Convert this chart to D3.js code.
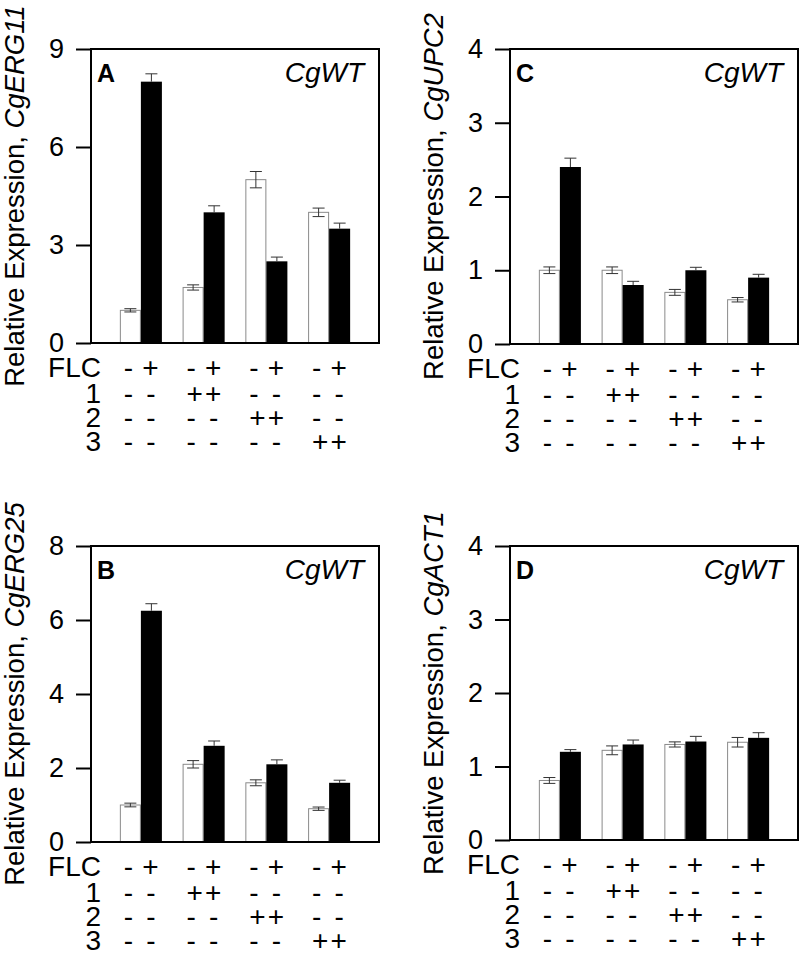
<!DOCTYPE html>
<html><head><meta charset="utf-8">
<script src="https://cdn.jsdelivr.net/npm/d3@7"></script>
<style>
html,body{margin:0;padding:0;background:#fff;}
svg text{font-family:"Liberation Sans",Arial,Helvetica,sans-serif;}
</style></head>
<body>
<svg id="chart" width="800" height="955"></svg>
<script>
// ---- data ----
const groups = ["G1","G2","G3","G4"];
const series = ["noFLC","FLC"];
const rowLabels = ["FLC","1","2","3"];
const rowSigns = [
  [["-","+"],["-","+"],["-","+"],["-","+"]],
  [["-","-"],["+","+"],["-","-"],["-","-"]],
  [["-","-"],["-","-"],["+","+"],["-","-"]],
  [["-","-"],["-","-"],["-","-"],["+","+"]]
];
const panelLetters = ["A","C","B","D"];
const panelGenes = ["CgERG11","CgUPC2","CgERG25","CgACT1"];
const strainLabel = "CgWT";
const yMaxes = [9,4,8,4];
const yTicksA = [0,3,6,9];
const yTicksC = [0,1,2,3,4];
const yTicksB = [0,2,4,6,8];
const yTicksD = [0,1,2,3,4];
// values: [white(-FLC), black(+FLC)] per group
const valuesA = [[1.0,8.0],[1.7,4.0],[5.0,2.5],[4.0,3.5]];
const errorsA = [[0.05,0.24],[0.08,0.2],[0.25,0.13],[0.13,0.17]];
const valuesC = [[1.0,2.4],[1.0,0.8],[0.7,1.0],[0.6,0.9]];
const errorsC = [[0.045,0.12],[0.045,0.05],[0.04,0.04],[0.03,0.045]];
const valuesB = [[1.0,6.25],[2.1,2.6],[1.6,2.1],[0.9,1.6]];
const errorsB = [[0.05,0.19],[0.1,0.13],[0.08,0.12],[0.045,0.07]];
const valuesD = [[0.81,1.2],[1.22,1.3],[1.3,1.34],[1.33,1.39]];
const errorsD = [[0.04,0.03],[0.06,0.06],[0.035,0.07],[0.065,0.07]];

const svg = d3.select("#chart");

const panels = [
  {letter:panelLetters[0], gene:panelGenes[0], ymax:yMaxes[0], ticks:yTicksA, vals:valuesA, errs:errorsA, box:{l:91,r:379,t:49,b:343}},
  {letter:panelLetters[1], gene:panelGenes[1], ymax:yMaxes[1], ticks:yTicksC, vals:valuesC, errs:errorsC, box:{l:510,r:798,t:49,b:344}},
  {letter:panelLetters[2], gene:panelGenes[2], ymax:yMaxes[2], ticks:yTicksB, vals:valuesB, errs:errorsB, box:{l:91,r:379,t:546,b:842}},
  {letter:panelLetters[3], gene:panelGenes[3], ymax:yMaxes[3], ticks:yTicksD, vals:valuesD, errs:errorsD, box:{l:510,r:798,t:546,b:840}}
];

panels.forEach(p => {
  const {l,r,t,b} = p.box;
  const g = svg.append("g");
  const y = d3.scaleLinear().domain([0,p.ymax]).range([b,t]);
  const x = d3.scaleBand().domain(groups).range([l,r]).paddingInner(0.33).paddingOuter(0.46);
  const xs = d3.scaleBand().domain(series).range([0,x.bandwidth()]);

  // bars
  groups.forEach((gr,gi) => {
    series.forEach((s,si) => {
      const v = p.vals[gi][si], e = p.errs[gi][si];
      const x0 = x(gr)+xs(s), w = xs.bandwidth();
      g.append("rect")
        .attr("x", si===0 ? x0+0.5 : x0).attr("y", y(v))
        .attr("width", si===0 ? w-1 : w).attr("height", y(0)-y(v))
        .attr("fill", si===0 ? "#fff" : "#000")
        .attr("stroke", si===0 ? "#8a8a8a" : "none").attr("stroke-width",1);
      const cx = x0 + w/2;
      const lo = si===0 ? v-e : v;
      g.append("line").attr("x1",cx).attr("x2",cx).attr("y1",y(v+e)).attr("y2",y(lo))
        .attr("stroke","#333").attr("stroke-width",1);
      g.append("line").attr("x1",cx-6).attr("x2",cx+6).attr("y1",y(v+e)).attr("y2",y(v+e))
        .attr("stroke","#333").attr("stroke-width",1);
      if (si===0) {
        g.append("line").attr("x1",cx-6).attr("x2",cx+6).attr("y1",y(v-e)).attr("y2",y(v-e))
          .attr("stroke","#333").attr("stroke-width",1);
      }
    });
  });

  // frame
  g.append("rect").attr("x",l).attr("y",t).attr("width",r-l).attr("height",b-t)
    .attr("fill","none").attr("stroke","#000").attr("stroke-width",2);

  // y axis
  const ax = g.append("g").attr("transform",`translate(${l},0)`)
    .call(d3.axisLeft(y).tickValues(p.ticks).tickFormat(d3.format("d")).tickSize(15).tickPadding(12));
  ax.select(".domain").remove();
  ax.selectAll(".tick line").attr("stroke","#000").attr("stroke-width",2);
  ax.selectAll(".tick text").attr("fill","#000").style("font-size","27px")
    .style("font-family","'Liberation Sans',Arial,sans-serif");

  // panel letter and strain
  g.append("text").attr("x",l+6).attr("y",t+33).attr("font-weight","bold")
    .style("font-size","25px").text(p.letter);
  g.append("text").attr("x",r-15).attr("y",t+33).attr("text-anchor","end")
    .attr("font-style","italic").style("font-size","28px").text(strainLabel);

  // y label
  const lab = g.append("text")
    .attr("transform",`translate(${l-67},${(t+b)/2}) rotate(-90)`)
    .attr("text-anchor","middle").style("font-size","27.5px");
  lab.append("tspan").text("Relative Expression, ");
  lab.append("tspan").attr("font-style","italic").text(p.gene);

  // condition rows
  const rowOff = [34,59.5,84,107.5];
  rowLabels.forEach((rl,ri) => {
    const by = b + rowOff[ri];
    g.append("text").attr("x",l+10).attr("y",by).attr("text-anchor","end")
      .style("font-size","28px").text(rl);
    groups.forEach((gr,gi) => {
      const c = x(gr) + x.bandwidth()/2;
      const [s1,s2] = rowSigns[ri][gi];
      const o1 = s1==="-" ? -12.5 : -9;
      const o2 = s2==="-" ? 10 : 9.5;
      g.append("text").attr("x",c+o1).attr("y",by).attr("text-anchor","middle")
        .style("font-size","28px").text(s1);
      g.append("text").attr("x",c+o2).attr("y",by).attr("text-anchor","middle")
        .style("font-size","28px").text(s2);
    });
  });
});
</script>
</body></html>
